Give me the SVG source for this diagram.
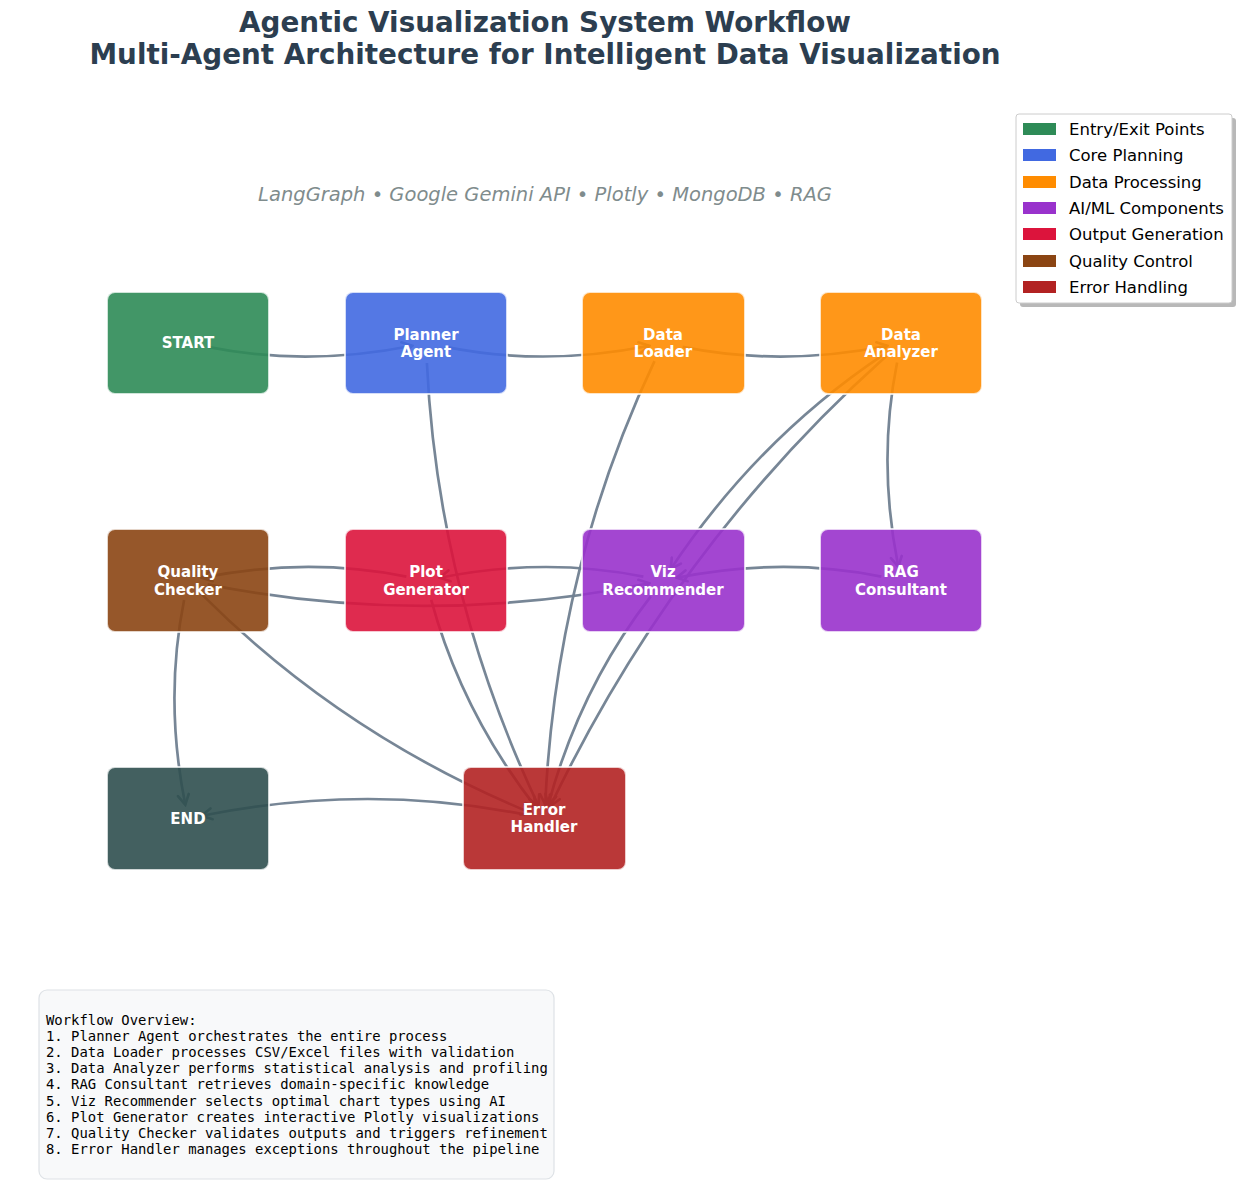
<svg xmlns="http://www.w3.org/2000/svg" width="1241" height="1183" viewBox="0 0 1241 1183">
<style>
.title{font-family:"DejaVu Sans",sans-serif;font-weight:bold;font-size:27.8px;fill:#2c3e50;text-anchor:middle}
.sub{font-family:"DejaVu Sans",sans-serif;font-style:italic;font-size:19.5px;fill:#7f8c8d;text-anchor:middle}
.node rect{stroke:#ffffff;stroke-opacity:0.75;stroke-width:2;fill-opacity:0.9}
.node text{font-family:"DejaVu Sans",sans-serif;font-weight:bold;font-size:15px;fill:#ffffff;text-anchor:middle}
.edge{fill:none;stroke:#708090;stroke-width:2.7;stroke-opacity:0.95;marker-end:url(#arr)}
.leg{font-family:"DejaVu Sans",sans-serif;font-size:16.5px;fill:#000000}
.mono{font-family:"DejaVu Sans Mono",monospace;font-size:13.9px;fill:#000000}
</style>
<defs>
<marker id="arr" viewBox="-12 -7 14 14" markerWidth="14" markerHeight="14" refX="0" refY="0" orient="auto" markerUnits="userSpaceOnUse">
<path d="M-10,-5.5 L0,0 L-10,5.5" fill="none" stroke="#708090" stroke-width="2.7" stroke-linecap="round" stroke-linejoin="miter"/>
</marker>
</defs>
<rect x="0" y="0" width="1241" height="1183" fill="#ffffff"/>
<text class="title" x="545" y="32">Agentic Visualization System Workflow</text>
<text class="title" x="545" y="64">Multi-Agent Architecture for Intelligent Data Visualization</text>
<text class="sub" x="545" y="201">LangGraph • Google Gemini API • Plotly • MongoDB • RAG</text>

<g id="connectors">
<path class="edge" d="M207.6,346.9 Q307,366.8 412.3,345.7"/>
<path class="edge" d="M445.6,346.9 Q544.5,366.7 649.3,345.7"/>
<path class="edge" d="M682.6,346.9 Q782,366.8 887.3,345.7"/>
<path class="edge" d="M897.1,362.6 Q877.25,461.75 898.3,566.8"/>
<path class="edge" d="M884.3,354.1 Q758.25,437.95 670.8,568.9"/>
<path class="edge" d="M881.4,576.6 Q782,556.7 676.7,577.8"/>
<path class="edge" d="M643.4,576.6 Q544.5,556.8 439.7,577.8"/>
<path class="edge" d="M406.4,576.6 Q307,556.7 201.7,577.8"/>
<path class="edge" d="M184.1,600.1 Q164.2,699.5 185.3,804.8"/>
<path class="edge" d="M207.6,584.4 Q425.5,628 649.3,583.2"/>
<path class="edge" d="M426.9,363 Q437.7,592.6 538.5,805.8"/>
<path class="edge" d="M654.5,361.1 Q556.2,568.9 545.2,804.5"/>
<path class="edge" d="M886.1,356.3 Q675.2,545.1 550.5,805.9"/>
<path class="edge" d="M650.8,596.3 Q579.95,687.65 548.2,805"/>
<path class="edge" d="M431.2,599.8 Q461.45,711.35 535.9,807.4"/>
<path class="edge" d="M202.1,594.6 Q342.45,735.15 531.6,813.2"/>
<path class="edge" d="M524.9,814.6 Q366.25,782.85 201.7,815.8"/>
</g>

<g id="start" class="node"><rect x="107" y="292" width="162" height="102" rx="8" fill="#2E8B57"/><text x="188" y="348">START</text></g>
<g id="planner" class="node"><rect x="345" y="292" width="162" height="102" rx="8" fill="#4169E1"/><text x="426" y="340">Planner</text><text x="426" y="357">Agent</text></g>
<g id="loader" class="node"><rect x="582" y="292" width="163" height="102" rx="8" fill="#FF8C00"/><text x="663" y="340">Data</text><text x="663" y="357">Loader</text></g>
<g id="analyzer" class="node"><rect x="820" y="292" width="162" height="102" rx="8" fill="#FF8C00"/><text x="901" y="340">Data</text><text x="901" y="357">Analyzer</text></g>
<g id="quality" class="node"><rect x="107" y="529" width="162" height="103" rx="8" fill="#8B4513"/><text x="188" y="577">Quality</text><text x="188" y="595">Checker</text></g>
<g id="plot" class="node"><rect x="345" y="529" width="162" height="103" rx="8" fill="#DC143C"/><text x="426" y="577">Plot</text><text x="426" y="595">Generator</text></g>
<g id="viz" class="node"><rect x="582" y="529" width="163" height="103" rx="8" fill="#9932CC"/><text x="663" y="577">Viz</text><text x="663" y="595">Recommender</text></g>
<g id="rag" class="node"><rect x="820" y="529" width="162" height="103" rx="8" fill="#9932CC"/><text x="901" y="577">RAG</text><text x="901" y="595">Consultant</text></g>
<g id="end" class="node"><rect x="107" y="767" width="162" height="103" rx="8" fill="#2F4F4F"/><text x="188" y="824">END</text></g>
<g id="error" class="node"><rect x="463" y="767" width="163" height="103" rx="8" fill="#B22222"/><text x="544" y="815">Error</text><text x="544" y="832">Handler</text></g>

<g id="legend">
<rect x="1020" y="118" width="216" height="189" rx="3" fill="#888888" opacity="0.6"/>
<rect x="1016" y="114" width="216" height="189" rx="3" fill="#ffffff" stroke="#cccccc" stroke-width="1"/>
<rect x="1023" y="123" width="33" height="12" fill="#2E8B57"/><text class="leg" x="1069" y="135">Entry/Exit Points</text>
<rect x="1023" y="149" width="33" height="12" fill="#4169E1"/><text class="leg" x="1069" y="161">Core Planning</text>
<rect x="1023" y="176" width="33" height="12" fill="#FF8C00"/><text class="leg" x="1069" y="188">Data Processing</text>
<rect x="1023" y="202" width="33" height="12" fill="#9932CC"/><text class="leg" x="1069" y="214">AI/ML Components</text>
<rect x="1023" y="228" width="33" height="12" fill="#DC143C"/><text class="leg" x="1069" y="240">Output Generation</text>
<rect x="1023" y="255" width="33" height="12" fill="#8B4513"/><text class="leg" x="1069" y="267">Quality Control</text>
<rect x="1023" y="281" width="33" height="12" fill="#B22222"/><text class="leg" x="1069" y="293">Error Handling</text>
</g>

<g id="overview">
<rect x="39" y="990" width="515" height="189" rx="8" fill="#f8f9fa" stroke="#dee2e6" stroke-width="1.2"/>
<text class="mono" x="46" y="1025">Workflow Overview:</text>
<text class="mono" x="46" y="1041">1. Planner Agent orchestrates the entire process</text>
<text class="mono" x="46" y="1057">2. Data Loader processes CSV/Excel files with validation</text>
<text class="mono" x="46" y="1073">3. Data Analyzer performs statistical analysis and profiling</text>
<text class="mono" x="46" y="1089">4. RAG Consultant retrieves domain-specific knowledge</text>
<text class="mono" x="46" y="1106">5. Viz Recommender selects optimal chart types using AI</text>
<text class="mono" x="46" y="1122">6. Plot Generator creates interactive Plotly visualizations</text>
<text class="mono" x="46" y="1138">7. Quality Checker validates outputs and triggers refinement</text>
<text class="mono" x="46" y="1154">8. Error Handler manages exceptions throughout the pipeline</text>
</g>
</svg>
